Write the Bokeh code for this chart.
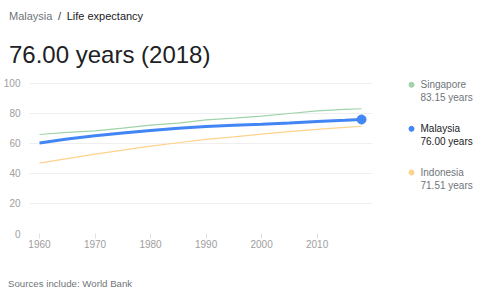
from bokeh.plotting import figure
from bokeh.models import Range1d, FixedTicker, Div
from bokeh.layouts import row, column
from bokeh.embed import file_html
from bokeh.resources import INLINE
from bokeh.core.properties import value

# ---- data ----
years = [1960, 1965, 1970, 1975, 1980, 1985, 1990, 1995, 2000, 2005, 2010, 2015, 2018]
singapore = [66.0, 67.4, 68.4, 70.3, 72.3, 73.6, 75.8, 76.9, 78.2, 80.0, 81.8, 82.8, 83.15]
malaysia = [60.3, 63.0, 65.2, 67.0, 68.6, 70.2, 71.4, 72.1, 72.8, 73.6, 74.7, 75.5, 76.00]
indonesia = [46.9, 49.9, 52.9, 55.6, 58.2, 60.5, 62.7, 64.4, 66.2, 67.9, 69.4, 70.8, 71.51]
countries = ["Singapore", "Malaysia", "Indonesia"]
latest = [83.15, 76.00, 71.51]
latest_year = 2018
y_ticks = [0, 20, 40, 60, 80, 100]
x_ticks = [1960, 1970, 1980, 1990, 2000, 2010]

colors = ["#9fd3a9", "#4285f4", "#fdd38c"]
FONT = "Liberation Sans"

# ---- header ----
header = Div(width=485, height=70, margin=0, text=(
    f'<div style="position:relative;width:485px;height:70px;font-family:\'{FONT}\';">'
    '<span style="position:absolute;left:9px;top:10.7px;font-size:11px;line-height:11px;'
    'color:#70757a;white-space:nowrap;">Malaysia</span>'
    '<span style="position:absolute;left:58px;top:10.7px;font-size:11px;line-height:11px;'
    'color:#3c4043;white-space:nowrap;">/</span>'
    '<span style="position:absolute;left:66.7px;top:10.7px;font-size:11px;line-height:11px;'
    'color:#202124;white-space:nowrap;">Life expectancy</span>'
    '<span style="position:absolute;left:9px;top:42.7px;font-size:24px;line-height:24px;'
    f'color:#202124;white-space:nowrap;">{malaysia[-1]:.2f} years ({latest_year})</span>'
    '</div>'))

# ---- chart ----
p = figure(width=375, height=200, x_range=Range1d(1958.2, 2019.97), y_range=Range1d(0, 105.33),
           output_backend="svg", toolbar_location=None, margin=0,
           min_border_left=27, min_border_right=3, min_border_top=5, min_border_bottom=37)
p.outline_line_color = None
p.border_fill_color = "white"

p.xgrid.visible = False
p.ygrid.ticker = FixedTicker(ticks=y_ticks)
p.ygrid.grid_line_color = "#efefef"
p.ygrid.grid_line_width = 1

p.yaxis.ticker = FixedTicker(ticks=y_ticks)
p.yaxis.axis_line_color = None
p.yaxis.major_tick_line_color = None
p.yaxis.minor_tick_line_color = None
p.yaxis.major_label_standoff = 3
p.yaxis.major_label_text_font = FONT
p.yaxis.major_label_text_font_size = "10px"
p.yaxis.major_label_text_color = "#9e9e9e"

p.xaxis.ticker = FixedTicker(ticks=x_ticks)
p.xaxis.axis_line_color = None
p.xaxis.major_tick_line_color = "#e0e0e0"
p.xaxis.major_tick_in = 0
p.xaxis.major_tick_out = 5
p.xaxis.minor_tick_line_color = None
p.xaxis.major_label_standoff = 1
p.xaxis.major_label_text_font = FONT
p.xaxis.major_label_text_font_size = "10px"
p.xaxis.major_label_text_color = "#9e9e9e"

p.line(years, singapore, line_color=colors[0], line_width=1.2)
p.line(years, indonesia, line_color=colors[2], line_width=1.2)
p.line(years, malaysia, line_color=colors[1], line_width=3)
p.scatter([years[-1]], [malaysia[-1]], size=9, fill_color=colors[1], line_color=colors[1])

# ---- legend panel (data units = page pixels, frame spans page y 75..233) ----
lg = figure(width=110, height=200, x_range=Range1d(0, 110), y_range=Range1d(233, 75),
            output_backend="svg", toolbar_location=None, margin=0,
            x_axis_location=None, y_axis_location=None,
            min_border_left=0, min_border_right=0, min_border_top=5, min_border_bottom=37)
lg.outline_line_color = None
lg.grid.visible = False
lg.border_fill_color = "white"

dot_y = [84.3, 128.3, 172.0]
name_colors = ["#70757a", "#202124", "#70757a"]
lg.scatter([36, 36, 36], dot_y, size=5, fill_color=colors, line_color=colors)
lg.text([45, 45, 45], dot_y, text=countries, text_font=value(FONT), text_font_size="10px",
        text_color=name_colors, text_baseline="middle")
lg.text([45, 45, 45], [y + 13 for y in dot_y], text=[f"{v:.2f} years" for v in latest],
        text_font=value(FONT), text_font_size="10px", text_color=name_colors,
        text_baseline="middle")

# ---- footer ----
footer = Div(width=485, height=30, margin=0, text=(
    f'<div style="position:relative;width:485px;height:30px;font-family:\'{FONT}\';">'
    '<span style="position:absolute;left:8px;top:9px;font-size:9.7px;line-height:10px;'
    'color:#70757a;white-space:nowrap;">Sources include: World Bank</span></div>'))

layout = column(header, row(p, lg, margin=0, spacing=0), footer, margin=0, spacing=0)
open("out.html", "w").write(file_html(layout, INLINE))
